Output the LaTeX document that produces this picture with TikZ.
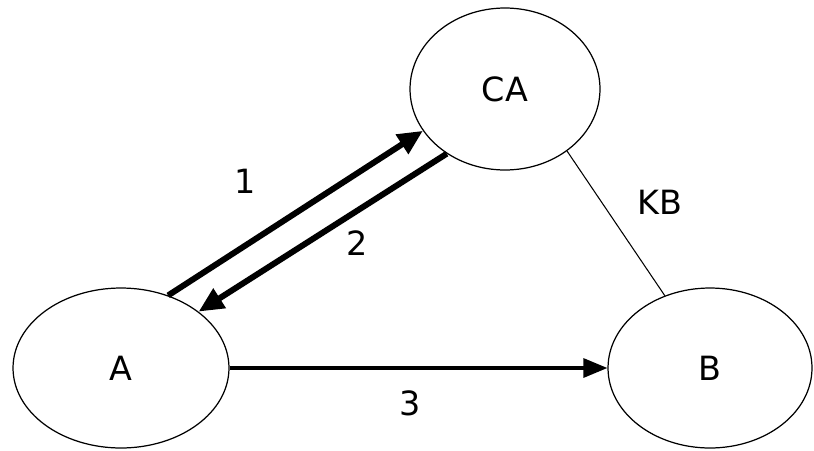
\documentclass[tikz,border=0pt]{standalone}
\usepackage{fontspec}
\setmainfont{DejaVu Sans}
\usetikzlibrary{arrows.meta,shapes.geometric}
\tikzset{
  party/.style={draw, ellipse, line width=0.7pt, inner sep=0pt,
    font=\fontsize{19}{22}\selectfont},
  %% Message arrows
  msgbig/.style={-{Triangle[length=0.5cm,width=0.44cm]}, line width=3.4pt},
  msgline/.style={-{Triangle[length=0.48cm,width=0.38cm]}, line width=1.8pt},
  keyline/.style={line width=0.6pt},
  msglabel/.style={font=\fontsize{19}{22}\selectfont},
}
\begin{document}
\begin{tikzpicture}[x=0.02cm, y=-0.02cm]
\useasboundingbox (0,0) rectangle (814,450);
%% Parties
\node[party, minimum width=4.32cm, minimum height=3.2cm]  (pA)  at (121,368) {A};
\node[party, minimum width=3.8cm,  minimum height=3.24cm] (pCA) at (505,89)  {CA};
\node[party, minimum width=4.08cm, minimum height=3.2cm]  (pB)  at (710,368) {B};

%% Messages
\draw[msgbig] (pA.57) -- (pCA.207);
\draw[msgbig] (pCA.228) -- (pA.36);
\draw[msgline] (pA.east) -- (pB.west);
\draw[keyline] (pCA.315) -- (pB.122);

%% Labels
\node[msglabel] (lOne)   at (245,181) {1};
\node[msglabel] (lTwo)   at (357,243) {2};
\node[msglabel] (lThree) at (410,403) {3};
\node[msglabel] (lKB)    at (660,202) {KB};
\end{tikzpicture}
\end{document}
